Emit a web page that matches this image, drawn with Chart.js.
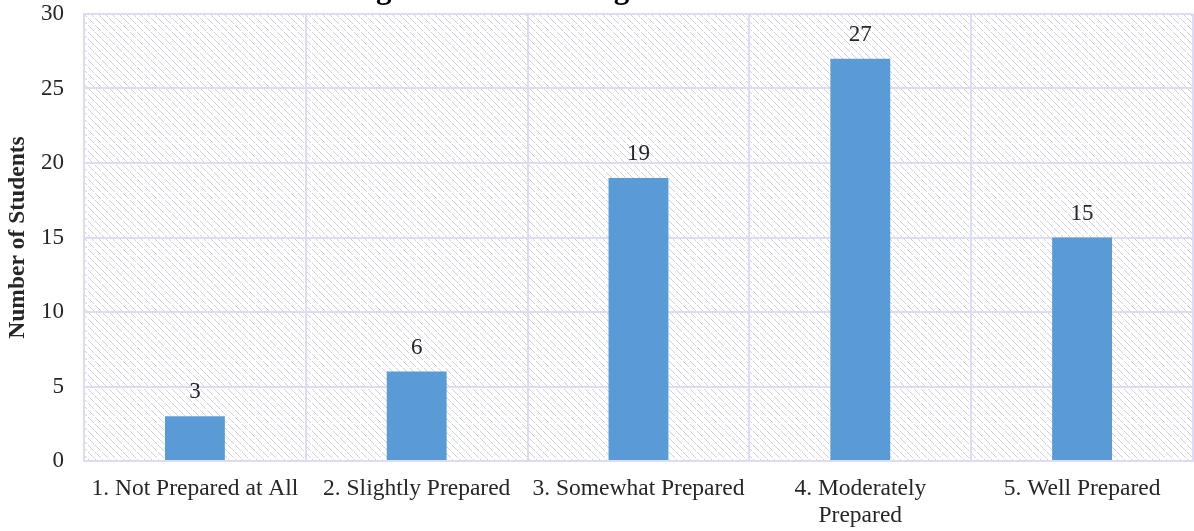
<!DOCTYPE html>
<html>
<head>
<meta charset="utf-8">
<script src="https://cdn.jsdelivr.net/npm/chart.js@4/dist/chart.umd.min.js"></script>
<style>
    html, body { margin: 0; padding: 0; background: #fff; }
    #wrap { width: 1194px; height: 531px; }
</style>
</head>
<body>
<div id="wrap"><canvas id="prep"></canvas></div>
<script>
const categories = [
    '1. Not Prepared at All',
    '2. Slightly Prepared',
    '3. Somewhat Prepared',
    ['4. Moderately', 'Prepared'],
    '5. Well Prepared'
];
const students = [3, 6, 19, 27, 15];
const chartTitle = 'Teaching Readiness Ratings';

const serif = '"Liberation Serif", "Times New Roman", serif';
const gridColor = '#dcdcf4';

// light diagonal hatch used behind the bars
function makeHatch() {
    const tile = document.createElement('canvas');
    tile.width = 7;
    tile.height = 7;
    const t = tile.getContext('2d');
    t.fillStyle = '#cdcdee';
    for (let i = 0; i < 7; i++) {
        if (i % 4 !== 3) t.fillRect(i, i, 1, 1);
    }
    return t.createPattern(tile, 'repeat');
}

const hatchBackground = {
    id: 'hatchBackground',
    beforeDraw(chart) {
        const { ctx, chartArea: a } = chart;
        ctx.save();
        ctx.fillStyle = makeHatch();
        ctx.fillRect(a.left, a.top, a.right - a.left, a.bottom - a.top);
        ctx.restore();
    }
};

// numbers over each bar
const barValues = {
    id: 'barValues',
    afterDatasetsDraw(chart) {
        const { ctx } = chart;
        const meta = chart.getDatasetMeta(0);
        ctx.save();
        ctx.font = '23px ' + serif;
        ctx.fillStyle = '#262626';
        ctx.textAlign = 'center';
        ctx.textBaseline = 'middle';
        meta.data.forEach((bar, i) => {
            ctx.fillText(students[i], bar.x, bar.y - 24);
        });
        ctx.restore();
    }
};

// title sits mostly above the visible page, only its descenders show
const topTitle = {
    id: 'topTitle',
    afterDraw(chart) {
        const { ctx } = chart;
        ctx.save();
        ctx.font = 'bold 31px ' + serif;
        ctx.fillStyle = '#000';
        ctx.textBaseline = 'alphabetic';
        ctx.textAlign = 'left';
        const x = 376 - ctx.measureText('Teachin').width;
        ctx.fillText(chartTitle, x, -2);
        ctx.restore();
    }
};

new Chart(document.getElementById('prep'), {
    type: 'bar',
    data: {
        labels: categories,
        datasets: [{
            label: 'Number of Students',
            data: students,
            backgroundColor: '#5b9bd5',
            borderWidth: 0,
            barPercentage: 0.27,
            categoryPercentage: 1
        }]
    },
    options: {
        responsive: true,
        maintainAspectRatio: false,
        animation: false,
        layout: { padding: { top: 14, right: 1, bottom: 0, left: 0 } },
        plugins: {
            legend: { display: false },
            tooltip: { enabled: false }
        },
        scales: {
            x: {
                grid: { color: gridColor, lineWidth: 2, drawTicks: false, offset: true },
                border: { color: gridColor, width: 2 },
                ticks: {
                    color: '#262626',
                    font: { family: serif, size: 23.5, lineHeight: 1.15 },
                    padding: 14,
                    maxRotation: 0,
                    autoSkip: false
                },
                afterFit(scale) {
                    scale.height = 70;
                    scale.paddingLeft = 0;
                    scale.paddingRight = 0;
                }
            },
            y: {
                min: 0,
                max: 30,
                grid: { color: gridColor, lineWidth: 2, drawTicks: false },
                border: { color: gridColor, width: 2 },
                ticks: {
                    stepSize: 5,
                    color: '#262626',
                    font: { family: serif, size: 23 },
                    padding: 20
                },
                title: {
                    display: true,
                    text: 'Number of Students',
                    color: '#262626',
                    font: { family: serif, size: 23.5, weight: 'bold' },
                    padding: { top: 4, bottom: 0 }
                },
                afterFit(scale) {
                    scale.width = 84;
                    scale.paddingTop = 0;
                    scale.paddingBottom = 0;
                }
            }
        }
    },
    plugins: [hatchBackground, barValues, topTitle]
});
</script>
</body>
</html>
